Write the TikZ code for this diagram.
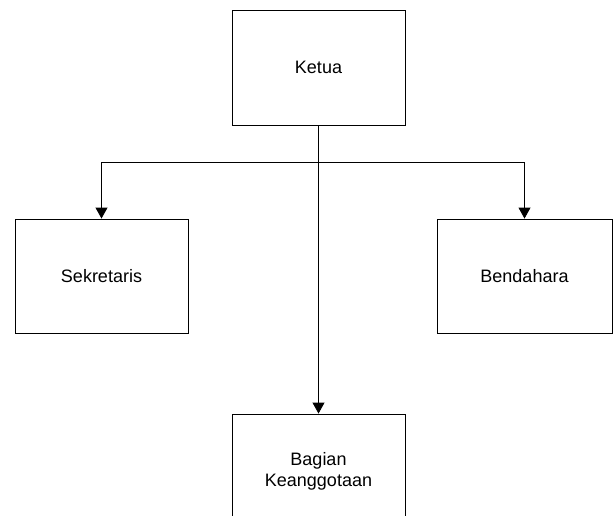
\documentclass[tikz,border=0pt]{standalone}
\usepackage{fontspec}
\setmainfont{Liberation Sans}
\usetikzlibrary{arrows.meta}
\begin{document}
\begin{tikzpicture}[x=1pt,y=1pt,
  orgbox/.style={draw=black, line width=0.9pt, minimum width=173pt, minimum height=114pt, inner sep=0pt, align=center, font=\fontsize{18}{21}\selectfont},
  conn/.style={draw=black, line width=0.9pt, -{Triangle[width=12pt,length=11pt]}}]
\useasboundingbox (0,0) rectangle (616,-525);
\node[orgbox, minimum height=115pt] (ketua) at (318.5,-67.5) {Ketua};
\node[orgbox] (sek) at (101.5,-276) {Sekretaris};
\node[orgbox, minimum width=175pt] (bend) at (524.5,-276) {Bendahara};
\begin{scope}
\clip (0,0) rectangle (616,-515);
\node[orgbox] (bag) at (318.5,-471) {Bagian\\Keanggotaan};
\end{scope}
\coordinate (j) at (ketua.south |- 0,-162);
\draw[conn] (ketua.south) -- (bag.north);
\draw[conn] (j) -| (sek.north);
\draw[conn] (j) -| (bend.north);
\end{tikzpicture}
\end{document}
